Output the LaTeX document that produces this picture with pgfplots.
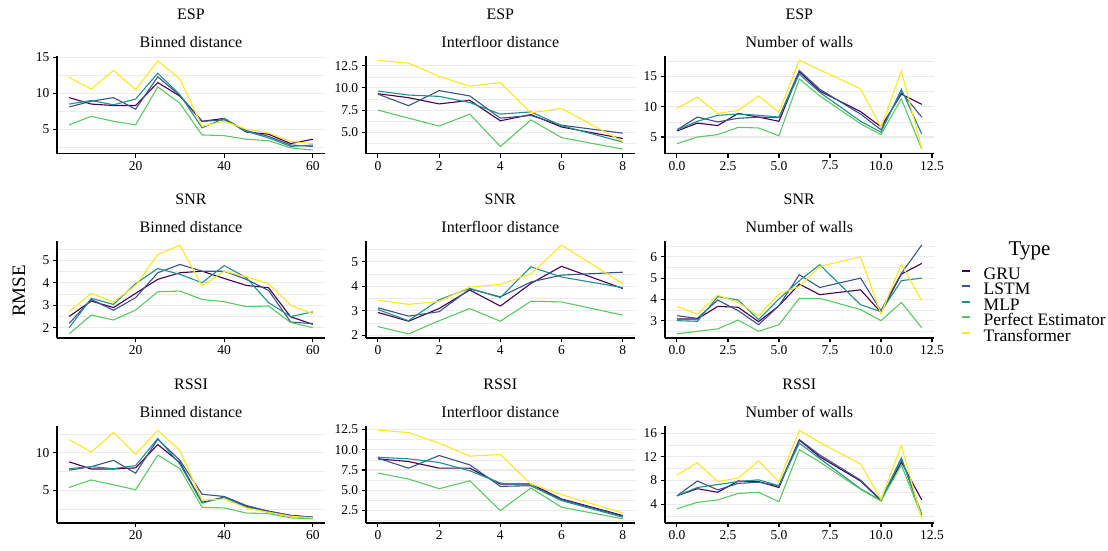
\documentclass[border=0pt]{standalone}
\usepackage{pgfplots}
\pgfplotsset{compat=1.18}
\usepackage{pgfplotstable}
\usepackage{fontspec}
\setmainfont{Liberation Serif}

\definecolor{cGRU}{HTML}{440154}
\definecolor{cLSTM}{HTML}{3B528B}
\definecolor{cMLP}{HTML}{21908C}
\definecolor{cPE}{HTML}{5DC863}
\definecolor{cTR}{HTML}{FDE725}

\tikzset{
 sGRU/.style={draw=cGRU, line width=1.1pt, mark=none},
 sLSTM/.style={draw=cLSTM, line width=1.1pt, mark=none},
 sMLP/.style={draw=cMLP, line width=1.1pt, mark=none},
 sPE/.style={draw=cPE, line width=1.1pt, mark=none},
 sTR/.style={draw=cTR, line width=1.1pt, mark=none},
}

% ESP - Binned distance
\pgfplotstableread{
x g l m p t
5 9.4 8.1 8.5 5.6 12.2
10 8.5 8.9 9.0 6.8 10.6
15 8.3 9.4 8.4 6.1 13.2
20 8.3 7.8 9.2 5.6 10.5
25 11.5 12.3 12.8 10.9 14.5
30 9.6 9.7 9.8 8.6 12.0
35 6.1 6.1 5.2 4.2 5.4
40 6.5 6.3 6.5 4.1 6.1
45 4.6 4.8 4.7 3.6 5.0
50 4.3 4.0 3.8 3.4 4.5
55 3.0 2.8 2.6 2.4 3.3
60 3.6 2.6 2.8 2.1 3.0
}\tabA
% ESP - Interfloor distance
\pgfplotstableread{
x g l m p t
0 9.35 9.3 9.65 7.5 13.1
1 8.9 8.0 9.2 6.6 12.8
2 8.2 9.7 9.05 5.7 11.3
3 8.6 9.1 8.35 7.05 10.2
4 6.3 6.6 7.05 3.4 10.6
5 7.0 6.9 7.3 6.4 7.2
6 5.6 5.8 5.75 4.4 7.7
8 4.3 4.9 3.9 3.1 3.96
}\tabB
% ESP - Number of walls
\pgfplotstableread{
x g l m p t
0 6.0 6.2 6.2 3.9 9.75
1 7.3 8.3 7.6 5.0 11.6
2 6.9 7.5 8.6 5.4 8.9
3 8.9 8.1 8.8 6.6 9.4
4 8.3 8.3 8.6 6.5 11.8
5 7.6 8.2 8.3 5.2 9.1
6 15.8 16.0 15.4 14.6 17.7
7 12.6 12.9 12.4 11.8 16.1
9 9.2 8.8 7.6 7.2 13.0
10 6.7 6.2 5.8 5.4 6.6
11 12.1 12.4 12.9 11.3 15.9
12 10.4 8.3 5.5 3.0 3.1
}\tabC
% SNR - Binned distance
\pgfplotstableread{
x g l m p t
5 2.51 2.2 2.01 1.74 2.72
10 3.19 3.26 3.31 2.57 3.53
15 2.9 2.78 3.04 2.35 3.15
20 3.53 3.34 3.96 2.79 3.88
25 4.15 4.44 4.63 3.6 5.25
30 4.44 4.81 4.37 3.63 5.66
35 4.51 4.51 4.0 3.26 3.85
40 4.19 4.51 4.76 3.16 4.51
45 3.88 4.15 4.22 2.94 4.26
50 3.78 3.66 3.12 2.97 3.96
55 2.49 2.26 2.5 2.24 3.0
60 2.16 2.19 2.71 2.01 2.63
}\tabD
% SNR - Interfloor distance
\pgfplotstableread{
x g l m p t
0 2.93 3.12 3.05 2.35 3.43
1 2.57 2.78 2.59 2.05 3.26
2 3.09 2.96 3.45 2.59 3.38
3 3.85 3.89 3.92 3.09 3.97
4 3.19 3.57 3.54 2.57 4.08
5 4.12 4.18 4.8 3.39 4.51
6 4.82 4.46 4.38 3.36 5.69
8 3.91 4.58 3.95 2.82 4.11
}\tabE
% SNR - Number of walls
\pgfplotstableread{
x g l m p t
0 3.08 3.23 3.0 2.38 3.67
1 3.08 3.11 2.97 2.5 3.31
2 3.67 3.97 4.13 2.61 4.2
3 3.63 3.47 3.97 3.03 3.86
4 2.95 2.81 3.05 2.5 3.23
5 3.7 3.7 4.02 2.81 4.25
6 4.72 5.16 4.88 4.05 4.61
7 4.22 4.56 5.63 4.05 5.55
9 4.45 5.0 3.75 3.52 6.0
10 3.39 3.47 3.42 3.0 3.31
11 5.19 5.22 4.88 3.86 5.66
12 5.69 6.56 5.0 2.66 3.94
}\tabF
% RSSI - Binned distance
\pgfplotstableread{
x g l m p t
5 8.8 7.7 7.9 5.4 11.75
10 7.85 8.16 8.16 6.4 10.1
15 7.85 9.0 7.9 5.75 12.7
20 8.0 7.3 8.3 5.1 9.8
25 11.1 11.8 11.9 9.7 13.0
30 8.7 9.0 8.5 7.9 10.3
35 3.42 4.5 3.33 2.76 3.7
40 4.12 4.2 4.08 2.68 3.86
45 2.9 3.0 2.8 2.0 2.68
50 2.24 2.24 2.1 1.93 2.1
55 1.7 1.67 1.58 1.36 1.58
60 1.45 1.45 1.36 1.23 1.36
}\tabG
% RSSI - Interfloor distance
\pgfplotstableread{
x g l m p t
0 8.87 8.95 9.07 7.11 12.4
1 8.54 7.72 8.87 6.38 12.1
2 7.72 9.28 8.42 5.19 10.8
3 7.72 8.13 7.4 6.17 9.2
4 5.77 5.48 5.89 2.5 9.4
5 5.77 5.56 5.56 5.28 5.77
6 3.93 3.85 3.72 2.91 4.46
8 1.89 1.81 1.68 1.48 2.21
}\tabH
% RSSI - Number of walls
\pgfplotstableread{
x g l m p t
0 5.4 5.4 5.4 3.2 8.9
1 6.6 7.9 6.8 4.3 11.0
2 6.0 6.4 7.3 4.7 7.8
3 7.9 7.5 7.8 5.8 8.4
4 7.8 7.7 8.1 6.0 11.3
5 6.8 7.1 7.1 4.4 7.8
6 14.8 14.9 14.3 13.2 16.5
7 12.0 12.3 11.7 11.1 14.4
9 7.9 8.05 6.6 6.5 10.8
10 4.6 4.7 4.6 4.5 4.8
11 11.1 11.7 11.8 10.6 13.9
12 4.7 2.2 2.2 1.9 1.55
}\tabI

\newcommand\fiveplots[1]{%
 \addplot[sGRU] table[x=x,y=g]{#1};
 \addplot[sLSTM] table[x=x,y=l]{#1};
 \addplot[sMLP] table[x=x,y=m]{#1};
 \addplot[sPE] table[x=x,y=p]{#1};
 \addplot[sTR] table[x=x,y=t]{#1};
}

\pgfplotsset{
 panel/.style={
  scale only axis, height=97.6pt, anchor=north west,
  axis x line*=bottom, axis y line*=left,
  axis line style={-, line width=1.7pt, black},
  ymajorgrids, yminorgrids,
  major grid style={line width=1.1pt, color=black!8},
  minor grid style={line width=0.6pt, color=black!8},
  tick align=outside, major tick length=4pt, minor tick length=0pt,
  tick style={black, line width=1.1pt},
  tick label style={font=\fontsize{13.5}{13.5}\selectfont, text=black},
  /pgf/number format/assume math mode=true,
  enlargelimits=false,
 },
 col1/.style={panel, width=268pt, xmin=2.25, xmax=62.75, xtick={20,40,60}},
 col2/.style={panel, width=269.3pt, xmin=-0.4, xmax=8.4, xtick={0,2,4,6,8}},
 col3/.style={panel, width=269.3pt, xmin=-0.6, xmax=12.6, xtick={0,2.5,5,7.5,10,12.5},
   xticklabel style={/pgf/number format/.cd, fixed, fixed zerofill, precision=1}},
 dec1y/.style={yticklabel style={/pgf/number format/.cd, fixed, fixed zerofill, precision=1}},
}

\newcommand\strip[4]{%
 \node[anchor=base, font=\fontsize{16}{16}\selectfont] at (#1pt,#2pt+36.5pt) {#3};
 \node[anchor=base, font=\fontsize{16}{16}\selectfont] at (#1pt,#2pt+8pt) {#4};}

\begin{document}
\begin{tikzpicture}
\useasboundingbox (0pt,0pt) rectangle (1108pt,-551pt);

% Row 1: ESP
\begin{axis}[col1, at={(57pt,-56pt)}, ymin=1.6, ymax=15.2, ytick={5,10,15}, minor ytick={2.5,7.5,12.5}]
\fiveplots{\tabA}
\end{axis}
\begin{axis}[col2, dec1y, at={(365.7pt,-56pt)}, ymin=2.6, ymax=13.6, ytick={5,7.5,10,12.5}, minor ytick={3.75,6.25,8.75,11.25}]
\fiveplots{\tabB}
\end{axis}
\begin{axis}[col3, at={(664.7pt,-56pt)}, ymin=2.26, ymax=18.4, ytick={5,10,15}, minor ytick={2.5,7.5,12.5,17.5}]
\fiveplots{\tabC}
\end{axis}

% Row 2: SNR
\begin{axis}[col1, at={(57pt,-240.7pt)}, ymin=1.54, ymax=5.86, ytick={2,3,4,5}, minor ytick={2.5,3.5,4.5,5.5}]
\fiveplots{\tabD}
\end{axis}
\begin{axis}[col2, at={(365.7pt,-240.7pt)}, ymin=1.87, ymax=5.87, ytick={2,3,4,5}, minor ytick={2.5,3.5,4.5,5.5}]
\fiveplots{\tabE}
\end{axis}
\begin{axis}[col3, at={(664.7pt,-240.7pt)}, ymin=2.17, ymax=6.76, ytick={3,4,5,6}, minor ytick={2.5,3.5,4.5,5.5,6.5},
  legend entries={GRU,LSTM,MLP,Perfect Estimator,Transformer},
  legend cell align=left,
  legend image code/.code={\draw[#1, line width=2pt] (0pt,4.3pt) -- (8pt,4.3pt);},
  legend style={at={(1.0992,0.7254)}, anchor=north west, draw=none, fill=none,
    font=\fontsize{17.5}{17.5}\selectfont, row sep=0pt, column sep=13pt,
    inner sep=0pt, outer sep=0pt,
    nodes={inner sep=0pt, text height=11.5pt, text depth=4pt}}]
\fiveplots{\tabF}
\end{axis}

% Row 3: RSSI
\begin{axis}[col1, at={(57pt,-425.7pt)}, ymin=0.64, ymax=13.6, ytick={5,10}, minor ytick={2.5,7.5,12.5}]
\fiveplots{\tabG}
\end{axis}
\begin{axis}[col2, dec1y, at={(365.7pt,-425.7pt)}, ymin=0.93, ymax=12.95, ytick={2.5,5,7.5,10,12.5}, minor ytick={1.25,3.75,6.25,8.75,11.25}]
\fiveplots{\tabH}
\end{axis}
\begin{axis}[col3, at={(664.7pt,-425.7pt)}, ymin=0.75, ymax=17.25, ytick={4,8,12,16}, minor ytick={2,6,10,14}]
\fiveplots{\tabI}
\end{axis}

% Strip titles
\strip{191}{-56}{ESP}{Binned distance}
\strip{500.3}{-56}{ESP}{Interfloor distance}
\strip{799.3}{-56}{ESP}{Number of walls}
\strip{191}{-240.7}{SNR}{Binned distance}
\strip{500.3}{-240.7}{SNR}{Interfloor distance}
\strip{799.3}{-240.7}{SNR}{Number of walls}
\strip{191}{-425.7}{RSSI}{Binned distance}
\strip{500.3}{-425.7}{RSSI}{Interfloor distance}
\strip{799.3}{-425.7}{RSSI}{Number of walls}

% Axis label and legend title
\node[rotate=90, anchor=base, font=\fontsize{19}{19}\selectfont] at (25pt,-291pt) {RMSE};
\node[anchor=base, font=\fontsize{21}{21}\selectfont] at (1029.5pt,-255pt) {Type};
\end{tikzpicture}
\end{document}
